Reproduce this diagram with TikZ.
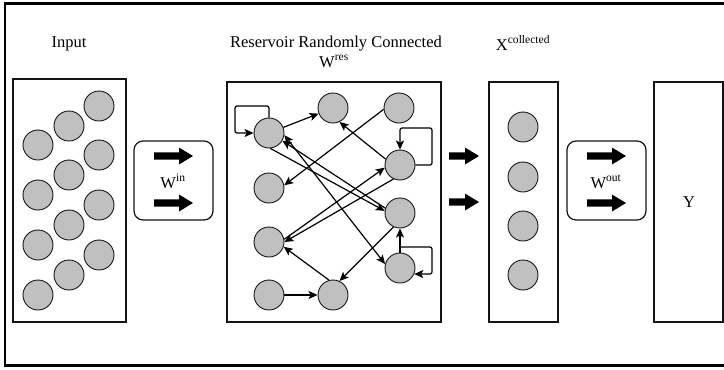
\documentclass[tikz,border=0pt]{standalone}
\usepackage{fontspec}
\setmainfont{Liberation Serif}
\usetikzlibrary{arrows.meta}
\definecolor{nfill}{RGB}{192,192,192}
\definecolor{edge}{RGB}{20,20,20}
\begin{document}
\begin{tikzpicture}[x=1pt,y=-1pt,
  neuron/.style={circle, draw=edge, line width=0.9pt, fill=nfill, minimum size=30pt, inner sep=0pt},
  panel/.style={draw=edge, line width=1.2pt, inner sep=0pt},
  wbox/.style={draw=edge, line width=1.2pt, rounded corners=9pt, inner sep=0pt, minimum width=79pt, minimum height=79pt},
  arr/.style={line width=1.2pt, draw=black, -{Stealth[length=9pt,width=8pt,inset=2pt]}},
  darr/.style={line width=1.2pt, draw=black, {Stealth[length=9pt,width=8pt,inset=2pt]}-{Stealth[length=9pt,width=8pt,inset=2pt]}},
  lbl/.style={font=\fontsize{16.5}{18}\selectfont, inner sep=0pt, anchor=base},
  pics/barrow/.style={code={
    \fill[black] (0,-3.6) -- ({#1-14},-3.6) -- ({#1-14},-8.5) -- (#1,0) -- ({#1-14},8.5) -- ({#1-14},3.6) -- (0,3.6) -- cycle;}}
]
\useasboundingbox (0,0) rectangle (724,370);
\draw[line width=2.5pt] (5,3.5) rectangle (760,365.5);

% labels
\node[lbl] (linput) at (69,47) {Input};
\node[lbl] (lres) at (336,47) {Reservoir Randomly Connected};
\node[lbl] (lwres) at (334,67) {W\textsuperscript{res}};
\node[lbl] (lxcol) at (523,50) {X\textsuperscript{collected}};

% panels
\node[panel, minimum width=113pt, minimum height=243pt] (inbox) at (69.5,200.5) {};
\node[wbox] (win) at (173.5,180.5) {};
\node[panel, minimum width=214pt, minimum height=240pt] (resbox) at (334,202) {};
\node[panel, minimum width=69pt, minimum height=240pt] (colbox) at (523.5,202) {};
\node[wbox] (wout) at (606.5,180.5) {};
\node[panel, minimum width=69pt, minimum height=240pt] (ybox) at (688.5,202) {};

\node[lbl] (lwin) at (173,188) {W\textsuperscript{in}};
\node[lbl] (lwout) at (606,188) {W\textsuperscript{out}};
\node[lbl] (ly) at (689,207) {Y};

% block arrows
\pic at (154,156) {barrow=39};
\pic at (154,203) {barrow=39};
\pic at (449,156) {barrow=30};
\pic at (449,202) {barrow=30};
\pic at (587,156) {barrow=39};
\pic at (587,203) {barrow=39};

% input neurons
\node[neuron] (i1) at (38,145) {};
\node[neuron] (i2) at (69,126) {};
\node[neuron] (i3) at (99,106) {};
\node[neuron] (i4) at (38,195) {};
\node[neuron] (i5) at (69,175) {};
\node[neuron] (i6) at (99,155) {};
\node[neuron] (i7) at (38,245) {};
\node[neuron] (i8) at (69,225) {};
\node[neuron] (i9) at (99,205) {};
\node[neuron] (i10) at (38,295) {};
\node[neuron] (i11) at (69,275) {};
\node[neuron] (i12) at (99,255) {};

% collected neurons
\node[neuron] (c1) at (523,127) {};
\node[neuron] (c2) at (523,177) {};
\node[neuron] (c3) at (523,226) {};
\node[neuron] (c4) at (523,275) {};

% reservoir neurons
\node[neuron] (A) at (269,133) {};
\node[neuron] (B) at (333,108) {};
\node[neuron] (C) at (399,108) {};
\node[neuron] (D) at (400,165) {};
\node[neuron] (E) at (269,188) {};
\node[neuron] (F) at (400,213) {};
\node[neuron] (G) at (269,242) {};
\node[neuron] (H) at (400,268) {};
\node[neuron] (I) at (269,295) {};
\node[neuron] (J) at (333,295) {};

\coordinate (aloop) at (235,106);
\coordinate (dloop) at (432,128);
\coordinate (hloopa) at (400,247);
\coordinate (hloopb) at (432,274);

% reservoir connections
\draw[arr, rounded corners=2pt] (A.north) |- (aloop) |- (A.west);
\draw[arr] (A) -- (B);
\draw[arr] (C.185) -- (E.10);
\draw[arr] (D.158) -- (B.-65);
\draw[arr, rounded corners=2pt] (D.east) -| (dloop) -| (D.north);
\draw[arr] (G.10) -- (D.190);
\draw[arr] (D.-115) -- (G.0);
\draw[arr] (J.105) -- (G.-18);
\draw[arr] (A.-85) -- (F.172);
\draw[arr] (F.162) -- (A.-30);
\draw[darr] (A.-8) -- (H.165);
\draw[arr] (F.-115) -- (J.65);
\draw[arr] (H.north) -- (F.south);
\draw[arr, rounded corners=2pt] (hloopa) -| (hloopb) -- (H.-23);
\draw[arr] (I) -- (J);
\end{tikzpicture}
\end{document}
